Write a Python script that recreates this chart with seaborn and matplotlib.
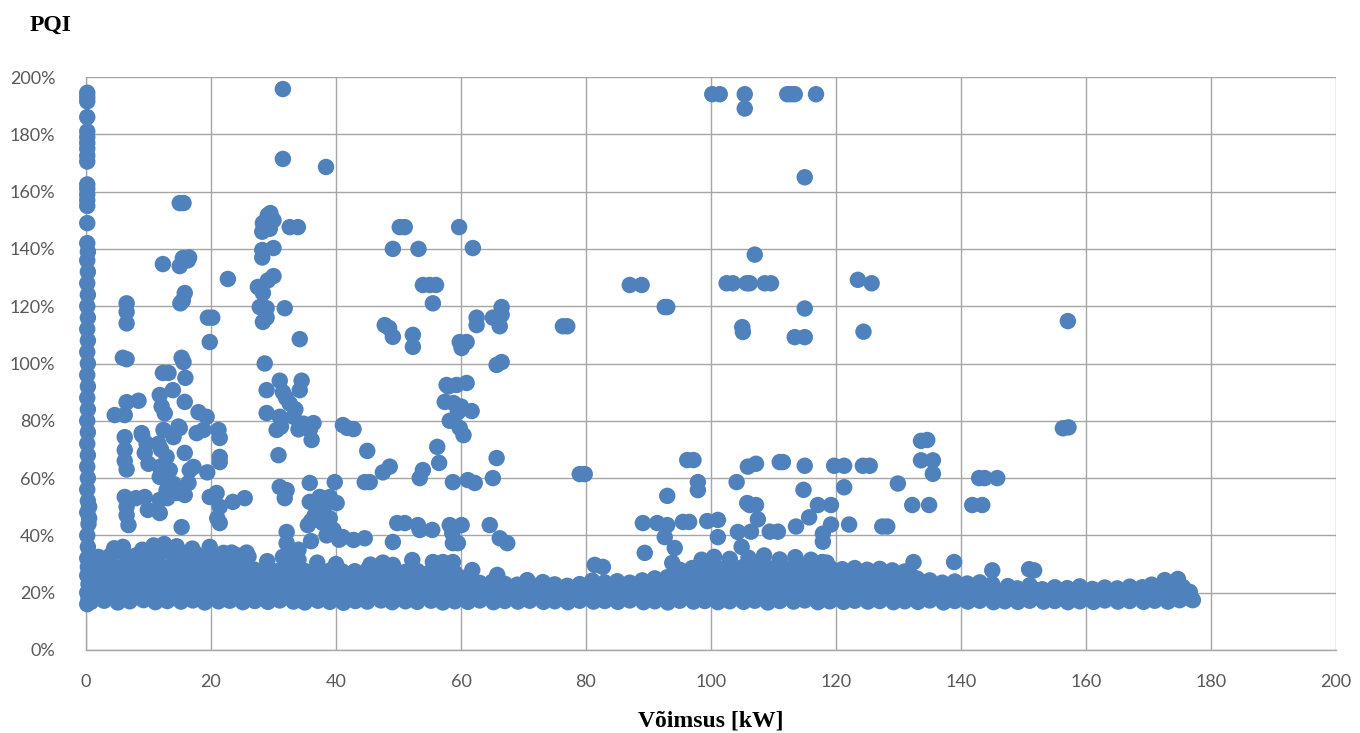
import matplotlib
matplotlib.use("Agg")
import matplotlib.pyplot as plt
import seaborn as sns
import pandas as pd

# ---------------- data (x = power kW, y = PQI %) ----------------
x_ticks = [0, 20, 40, 60, 80, 100, 120, 140, 160, 180, 200]
y_ticks = [0, 20, 40, 60, 80, 100, 120, 140, 160, 180, 200]
title_text = "PQI"
xlabel_text = "Võimsus [kW]"

# points at zero power (vertical column)
zero_column = [(0.2, 16), (0.4, 18), (0.2, 20), (0.4, 23), (0.2, 26), (0.3, 29), (0.2, 32), (0.3, 36),
               (0.2, 40), (0.4, 44), (0.2, 48), (0.3, 52), (0.2, 56), (0.3, 60), (0.2, 64), (0.3, 68),
               (0.2, 72), (0.3, 76), (0.2, 80), (0.3, 84), (0.2, 88), (0.3, 92), (0.2, 96), (0.3, 100),
               (0.2, 104), (0.3, 108), (0.2, 112), (0.3, 116), (0.2, 120), (0.3, 124), (0.2, 128),
               (0.3, 132), (0.2, 136), (0.3, 139), (0.2, 142), (0.2, 149), (0.2, 155), (0.2, 157),
               (0.2, 159), (0.2, 161), (0.2, 162.5), (0.2, 170.5), (0.2, 172.5), (0.2, 175), (0.2, 177),
               (0.2, 179), (0.2, 181), (0.2, 186), (0.2, 191.5), (0.2, 193), (0.2, 194.5),
               (0.6, 17), (0.7, 22), (0.6, 27), (0.7, 31), (0.5, 46), (0.5, 50)]

band_low = [(0.8, 16.8), (2.9, 17.2), (5.1, 16.6), (7.0, 17.0), (9.2, 17.4), (11.1, 16.7), (13.0, 17.1),
            (15.2, 16.9), (17.1, 17.3), (19.0, 16.6), (21.2, 17.0), (23.0, 17.2), (25.1, 16.7), (27.0, 17.1),
            (29.1, 16.8), (31.0, 17.3), (33.2, 16.9), (35.0, 16.6), (37.1, 17.2), (39.0, 16.8), (41.2, 16.5),
            (43.1, 17.1), (45.0, 16.9), (47.2, 17.3), (49.0, 16.7), (51.1, 17.0), (53.0, 16.8), (55.2, 17.2),
            (57.1, 16.6), (59.0, 17.0), (61.1, 16.8), (63.0, 17.3), (65.2, 16.7), (67.0, 17.1), (69.1, 16.9),
            (71.0, 17.2), (73.2, 16.8), (75.0, 17.0), (77.1, 16.7), (79.0, 17.2), (81.2, 16.9), (83.0, 17.1),
            (85.1, 16.8), (87.0, 17.3), (89.2, 16.7), (91.0, 17.0), (93.1, 16.6), (95.0, 17.2), (97.2, 16.9),
            (99.0, 17.1), (101.1, 16.7), (103.0, 17.0), (105.2, 16.8), (107.0, 17.2), (109.1, 16.6),
            (111.0, 17.1), (113.2, 16.9), (115.0, 17.3), (117.1, 16.7), (119.0, 17.0), (121.2, 16.8),
            (123.0, 17.2), (125.1, 16.9), (127.0, 17.1), (129.2, 16.7), (131.0, 17.0), (133.1, 16.8),
            (135.0, 17.3), (137.2, 16.6), (139.0, 17.1), (141.1, 16.9), (143.0, 17.2), (145.2, 16.7),
            (147.0, 17.0), (149.1, 16.8), (151.0, 17.2), (153.2, 16.9), (155.0, 17.1), (157.1, 16.7),
            (159.0, 17.0), (161.2, 16.8), (163.0, 17.3), (165.1, 16.9), (167.0, 17.1), (169.2, 16.8),
            (171.0, 17.2), (173.1, 16.9), (175.0, 17.4), (176.9, 17.6)]

band_low_fill = [(1.9, 19.2), (4.0, 18.8), (6.1, 19.4), (8.0, 19.0), (10.2, 18.7), (12.1, 19.3), (14.0, 19.1),
                 (16.1, 18.8), (18.0, 19.2), (20.2, 19.0), (22.1, 18.6), (24.0, 19.3), (26.1, 19.0),
                 (28.0, 18.8), (30.2, 19.2), (32.1, 18.9), (34.0, 19.4), (36.2, 19.0), (38.1, 18.7),
                 (40.0, 19.2), (42.2, 18.9), (44.1, 19.1), (46.0, 18.8), (48.2, 19.3), (50.1, 19.0),
                 (52.0, 18.7), (54.2, 19.2), (56.1, 18.9), (58.0, 19.1), (60.2, 18.8), (62.1, 19.2),
                 (64.0, 18.9), (66.2, 19.1), (68.1, 18.7), (70.0, 19.0), (72.2, 18.8), (74.1, 19.1),
                 (76.0, 18.7), (78.2, 19.0), (80.1, 18.8), (82.0, 19.2), (84.2, 18.9), (86.1, 19.1),
                 (88.0, 18.8), (90.2, 19.2), (92.1, 18.9), (94.0, 19.3), (96.2, 19.0), (98.1, 18.7),
                 (100.0, 19.2), (102.2, 18.9), (104.1, 19.3), (106.0, 19.0), (108.2, 18.8), (110.1, 19.2),
                 (112.0, 18.9), (114.2, 19.1), (116.1, 18.8), (118.0, 19.2), (120.2, 19.0), (122.1, 18.7),
                 (124.0, 19.1), (126.2, 18.9), (128.1, 19.2), (130.0, 18.8), (132.2, 19.0), (134.1, 18.7),
                 (136.0, 19.1), (138.2, 18.9), (140.1, 19.2), (142.0, 18.8), (144.2, 19.0), (146.1, 18.7),
                 (148.0, 19.0), (150.2, 18.8), (152.1, 19.1), (154.0, 18.7), (156.2, 19.0), (158.1, 18.8),
                 (160.0, 18.6), (162.2, 19.0), (164.1, 18.7), (166.0, 18.9), (168.2, 18.6), (170.1, 19.0),
                 (172.0, 19.2), (174.2, 18.9), (176.0, 19.1)]

band_mid = [(2.0, 21.2), (4.0, 20.8), (6.0, 21.5), (8.0, 21.0), (10.0, 20.6), (12.0, 21.3), (14.0, 21.0),
            (16.0, 20.7), (18.0, 21.4), (20.0, 21.1), (22.0, 20.8), (24.0, 21.2), (26.0, 20.9), (28.0, 21.4),
            (30.0, 21.0), (32.0, 20.6), (34.0, 21.3), (36.0, 21.0), (38.0, 20.8), (40.0, 21.2), (42.0, 21.0),
            (44.0, 20.7), (46.0, 21.3), (48.0, 21.0), (50.0, 20.8), (52.0, 21.2), (54.0, 20.9), (56.0, 21.3),
            (58.0, 21.0), (60.0, 20.7), (62.0, 21.2), (64.0, 20.9), (66.0, 21.1), (68.0, 20.6), (70.0, 21.0),
            (72.0, 20.5), (74.0, 20.8), (76.0, 20.4), (78.0, 20.9), (80.0, 20.6), (82.0, 21.1), (84.0, 20.8),
            (86.0, 21.2), (88.0, 20.9), (90.0, 21.3), (92.0, 21.0), (94.0, 20.7), (96.0, 21.2), (98.0, 21.0),
            (100.0, 21.4), (102.0, 20.9), (104.0, 21.2), (106.0, 21.0), (108.0, 20.7), (110.0, 21.3),
            (112.0, 21.0), (114.0, 20.8), (116.0, 21.2), (118.0, 20.9), (120.0, 21.3), (122.0, 21.0),
            (124.0, 20.7), (126.0, 21.1), (128.0, 20.8), (130.0, 21.2), (132.0, 20.9), (134.0, 20.6),
            (136.0, 21.0), (138.0, 20.7), (140.0, 21.1), (142.0, 20.5), (144.0, 20.9), (146.0, 20.4),
            (148.0, 20.8), (150.0, 20.5), (152.0, 20.9), (154.0, 20.3), (156.0, 20.7), (158.0, 20.4),
            (160.0, 20.2), (162.0, 20.6), (164.0, 20.3), (166.0, 20.0), (168.0, 20.4), (170.0, 20.7),
            (172.0, 21.0), (174.0, 21.3), (176.0, 20.5)]

band_mid_fill = [(1.0, 23.0), (3.1, 23.4), (5.0, 22.8), (7.1, 23.2), (9.0, 23.5), (11.1, 22.9), (13.0, 23.3),
                 (15.1, 23.0), (17.0, 23.4), (19.1, 22.8), (21.0, 23.2), (23.1, 23.5), (25.0, 22.9),
                 (27.1, 23.3), (29.0, 23.0), (31.1, 23.4), (33.0, 22.8), (35.1, 23.2), (37.0, 23.5),
                 (39.1, 22.9), (41.0, 23.3), (43.1, 23.0), (45.0, 23.4), (47.1, 22.8), (49.0, 23.2),
                 (51.1, 23.0), (53.0, 23.3), (55.1, 22.9), (57.0, 23.2), (59.1, 22.8), (61.0, 23.0),
                 (63.1, 22.0), (65.0, 22.3), (67.1, 21.8), (69.0, 22.1), (71.1, 21.6), (73.0, 21.9),
                 (75.1, 21.5), (77.0, 21.8), (79.1, 22.2), (81.0, 22.6), (83.1, 22.2), (85.0, 22.5),
                 (87.1, 22.1), (89.0, 22.7), (91.1, 23.0), (93.0, 23.4), (95.1, 22.9), (97.0, 23.3),
                 (99.1, 23.0), (101.0, 23.5), (103.1, 23.1), (105.0, 23.4), (107.1, 22.9), (109.0, 23.3),
                 (111.1, 23.0), (113.0, 23.4), (115.1, 22.9), (117.0, 23.2), (119.1, 23.0), (121.0, 23.4),
                 (123.1, 22.8), (125.0, 23.2), (127.1, 23.0), (129.0, 22.7), (131.1, 23.1), (133.0, 22.8),
                 (135.1, 22.4), (137.0, 22.0), (139.1, 22.3), (141.0, 21.9), (143.1, 22.2), (145.0, 21.7),
                 (149.0, 21.5), (153.0, 21.2), (157.0, 21.6), (161.0, 21.3), (165.0, 21.5), (169.0, 21.9),
                 (172.5, 22.4), (175.5, 22.0)]

band_upper = [(1.0, 25.0), (3.0, 25.4), (5.0, 24.8), (7.0, 25.6), (9.0, 25.1), (11.0, 24.7), (13.0, 25.3),
              (15.0, 25.0), (17.0, 25.5), (19.0, 24.9), (21.0, 25.2), (23.0, 25.6), (25.0, 24.8), (27.0, 25.1),
              (29.0, 25.4), (31.0, 24.7), (33.0, 25.2), (35.0, 25.5), (37.0, 24.9), (39.0, 25.3), (41.0, 25.0),
              (43.0, 24.6), (45.0, 25.2), (47.0, 24.9), (49.0, 25.4), (51.0, 24.8), (53.0, 25.1), (55.0, 24.7),
              (57.0, 25.3), (59.0, 24.9), (61.0, 24.4), (63.0, 23.4), (65.0, 23.8), (67.0, 23.1), (69.0, 22.8),
              (71.0, 23.2), (73.0, 22.6), (75.0, 22.9), (77.0, 22.4), (79.0, 23.0), (81.0, 24.2), (83.0, 23.6),
              (85.0, 24.0), (87.0, 23.5), (89.0, 24.3), (91.0, 25.0), (93.0, 25.4), (95.0, 24.8), (97.0, 25.6),
              (99.0, 25.2), (101.0, 25.8), (103.0, 25.1), (105.0, 25.5), (107.0, 24.9), (109.0, 25.3),
              (111.0, 25.7), (113.0, 25.0), (115.0, 25.4), (117.0, 24.8), (119.0, 25.2), (121.0, 25.6),
              (123.0, 24.9), (125.0, 25.3), (127.0, 24.7), (129.0, 25.1), (131.0, 24.6), (133.0, 24.9),
              (135.0, 24.3), (137.0, 23.5), (139.0, 23.9), (141.0, 23.2), (143.0, 23.6), (145.0, 23.0),
              (147.5, 22.3), (151.0, 22.6), (155.0, 21.9), (159.0, 22.2), (163.0, 21.8), (167.0, 22.1),
              (170.5, 22.8), (173.5, 23.4)]

band_upper_fill = [(2.0, 27.2), (4.0, 27.6), (6.0, 27.0), (8.0, 27.4), (10.0, 27.8), (12.0, 27.1),
                   (14.0, 27.5), (16.0, 27.2), (18.0, 27.6), (20.0, 27.0), (22.0, 27.3), (24.0, 27.7),
                   (26.0, 27.0), (28.0, 26.6), (30.0, 27.0), (32.0, 26.4), (34.0, 26.8), (36.0, 26.3),
                   (38.0, 26.7), (40.0, 26.2), (42.0, 26.0), (44.0, 26.4), (46.0, 25.9), (48.0, 26.3),
                   (50.0, 25.8), (52.0, 26.2), (54.0, 25.7), (56.0, 26.1), (58.0, 25.6), (60.0, 25.3),
                   (94.0, 26.4), (96.0, 26.9), (98.0, 27.2), (100.0, 27.6), (102.0, 27.0), (104.0, 27.4),
                   (106.0, 27.1), (108.0, 27.5), (110.0, 26.9), (112.0, 27.3), (114.0, 27.0), (116.0, 27.4),
                   (118.0, 26.8), (120.0, 27.1), (122.0, 26.7), (124.0, 27.0), (126.0, 26.5), (128.0, 26.8),
                   (130.0, 26.3), (132.0, 26.0)]

band_top = [(1.0, 29.0), (3.0, 29.5), (5.0, 28.8), (7.0, 29.4), (9.0, 29.1), (11.0, 29.7), (13.0, 28.9),
            (15.0, 29.3), (17.0, 29.6), (19.0, 29.0), (21.0, 29.4), (23.0, 28.8), (25.0, 29.2), (27.0, 28.0),
            (29.0, 28.5), (31.0, 27.8), (33.0, 28.3), (35.0, 27.6), (37.0, 28.1), (39.0, 27.7), (41.0, 27.4),
            (43.0, 27.5), (45.0, 27.9), (47.0, 27.3), (49.0, 27.8), (51.0, 27.2), (53.0, 27.6), (55.0, 27.1),
            (57.0, 27.5), (59.0, 27.0), (95.0, 28.0), (97.0, 28.6), (99.0, 29.2), (101.0, 28.7), (103.0, 29.3),
            (105.0, 28.9), (107.0, 29.5), (109.0, 28.8), (111.0, 29.2), (113.0, 28.6), (115.0, 29.0),
            (117.0, 28.4), (119.0, 28.8), (121.0, 28.2), (123.0, 28.6), (125.0, 28.0), (127.0, 28.3),
            (129.0, 27.8), (131.0, 27.4),
            (2.0, 32.5), (4.0, 33.2), (6.0, 33.8), (8.0, 33.0), (10.0, 33.6), (12.0, 34.0), (14.0, 33.3),
            (16.0, 33.8), (18.0, 33.1), (20.0, 33.5), (22.0, 33.9), (24.0, 33.2), (26.0, 32.6), (4.5, 35.5),
            (9.0, 35.0), (12.5, 37.0), (14.5, 36.2), (17.0, 35.4), (10.8, 36.5),
            (3.0, 31.0), (7.0, 31.4), (11.0, 31.2), (15.0, 31.5), (19.0, 31.1), (23.0, 31.3),
            (98.5, 31.5), (100.5, 32.5), (103.0, 31.8), (106.0, 32.2), (108.5, 33.0), (111.0, 31.6),
            (113.5, 32.4), (116.0, 31.5), (118.5, 30.5), (29.0, 31.0), (31.5, 32.5), (34.0, 31.5),
            (37.0, 30.5), (40.0, 30.0), (45.5, 29.8), (47.5, 30.5)]

outliers_low_power = [(5.9, 102), (6.5, 101.5), (15.3, 102), (15.6, 100.5), (15.9, 95), (19.8, 107.5),
                      (34.2, 108.5), (28.6, 100), (12.3, 96.7), (13.2, 96.7), (8.4, 87), (6.5, 86.5), (4.6, 82),
                      (6.2, 82), (11.8, 89), (13.9, 90.7), (12.1, 85), (12.6, 82.6), (15.8, 86.6), (18.0, 83),
                      (19.3, 81.4), (17.7, 75.7), (18.8, 76.8), (21.2, 76.8), (21.4, 74), (6.2, 74.3),
                      (6.2, 69.8), (6.2, 66), (6.5, 63), (8.9, 75.7), (9.7, 72), (9.4, 68.8), (11.6, 72),
                      (12.4, 76.8), (14.0, 74.3), (15.0, 77.5), (12.9, 67.4), (11.8, 63.9), (13.4, 62.8),
                      (15.8, 68.8), (11.8, 60.4), (16.6, 62.8), (17.2, 63.9), (19.4, 62), (21.4, 67.4),
                      (21.4, 65.6), (6.2, 53.4), (6.5, 50), (6.5, 47), (6.8, 43.6), (9.4, 53.4), (9.9, 48.9),
                      (11.8, 52.4), (12.9, 55.8), (14.5, 54.8), (15.8, 54.1), (16.4, 58.3), (11.8, 47.8),
                      (15.3, 42.9), (19.8, 53.4), (20.9, 54.8), (21.4, 50), (21.4, 44.3), (23.5, 51.7),
                      (25.4, 53), (5.9, 36), (19.8, 36), (23.3, 34), (25.7, 34), (14.8, 78), (10.0, 65),
                      (12.0, 70), (14.0, 58), (13.0, 53), (8.0, 53), (21.0, 46), (9.0, 75),
                      (28.9, 82.7), (31.0, 81.4), (30.5, 76.8), (32.6, 86), (33.2, 81.4), (34.5, 94), (31.0, 94),
                      (28.9, 90.7), (34.2, 90.7), (34.8, 79), (35.8, 76.8), (36.1, 73.3), (36.4, 79.2),
                      (30.8, 68), (31.0, 56.9), (32.1, 55.8), (31.8, 53), (35.8, 58.3), (39.8, 58.6),
                      (35.8, 51.7), (37.4, 53.4), (39.0, 53.4), (40.1, 51.3), (37.4, 48.9), (36.6, 47),
                      (35.5, 43.6), (37.9, 44.3), (39.6, 41.9), (32.1, 41.2), (32.1, 37.3), (41.1, 39.4),
                      (41.1, 78.5), (41.8, 77.5), (32.0, 88), (33.5, 84), (31.5, 90), (34.0, 77), (31.2, 78),
                      (38.0, 49), (39.0, 46), (36.0, 45), (38.5, 40), (40.5, 38.5), (33.0, 33), (34.0, 35),
                      (36.0, 38),
                      (31.5, 195.8), (31.5, 171.4), (38.4, 168.6), (15.0, 156), (15.6, 156), (29.1, 151.8),
                      (28.3, 149), (30.0, 150), (28.2, 146), (29.4, 147), (32.6, 147.6), (33.9, 147.6),
                      (28.2, 139.6), (30.0, 140.3), (28.2, 137), (12.3, 134.7), (15.5, 136.8), (16.3, 136),
                      (15.0, 134), (22.7, 129.5), (30.0, 130.5), (29.1, 129), (27.5, 126.7), (28.3, 124.6),
                      (15.8, 124.6), (15.5, 122), (15.1, 121), (27.8, 119.7), (28.9, 119.3), (31.8, 119.3),
                      (28.9, 116), (28.3, 114.5), (6.5, 121), (6.5, 118), (6.5, 114), (19.5, 116), (20.2, 116),
                      (29.5, 152.5), (29.0, 150.5), (16.5, 137)]

outliers_mid_power = [(50.2, 147.6), (51.0, 147.6), (59.7, 147.6), (49.1, 140), (53.2, 140), (61.9, 140.3),
                      (53.9, 127.4), (55.0, 127.4), (56.0, 127.4), (55.5, 121), (87.0, 127.4), (88.9, 127.4),
                      (92.6, 119.7), (93.0, 119.7), (47.8, 113.4), (48.5, 112.4), (49.1, 109.3), (52.3, 110),
                      (52.3, 105.8), (59.8, 107.5), (60.9, 107.5), (60.1, 105.4), (62.5, 116), (62.5, 113.4),
                      (66.5, 119.7), (65.1, 116), (66.5, 117), (66.2, 113), (66.5, 100.5), (65.7, 99.5),
                      (77.0, 113), (76.3, 113), (57.7, 92.5), (59.3, 92.5), (60.9, 93.2), (57.4, 86.6),
                      (58.8, 86.2), (61.7, 83.4), (59.5, 83), (58.2, 80), (59.8, 77.5), (60.4, 75), (42.8, 77.1),
                      (45.0, 69.5), (47.5, 62), (48.6, 64), (53.9, 62.8), (53.4, 60), (56.2, 70.9), (56.5, 65.3),
                      (44.6, 58.6), (45.4, 58.6), (58.7, 58.6), (61.1, 59.3), (62.2, 58.3), (65.7, 67),
                      (65.1, 60), (79.0, 61.4), (79.8, 61.4), (96.2, 66.3), (97.2, 66.3), (97.9, 58.6),
                      (97.9, 55.8), (93.0, 53.8), (49.8, 44.3), (51.0, 44.3), (53.1, 43.6), (55.4, 41.9),
                      (53.4, 41.9), (58.2, 43.6), (60.1, 43.6), (58.6, 40.8), (58.7, 37.3), (59.5, 37.3),
                      (64.6, 43.6), (66.2, 39), (67.4, 37.3), (42.8, 38.4), (44.6, 39), (49.1, 37.7),
                      (49.1, 29.7), (52.2, 31.4), (55.5, 30.7), (57.1, 30.7), (58.7, 30.7), (89.1, 44.3),
                      (91.4, 44.3), (93.0, 43.6), (92.6, 39.4), (94.2, 35.6), (89.4, 33.9), (95.5, 44.7),
                      (96.5, 44.7), (99.4, 45), (101.1, 45.4), (101.1, 39.4), (104.3, 41.2), (104.9, 36),
                      (93.8, 30.4), (81.4, 29.7), (82.7, 29), (60.0, 85), (58.0, 92), (61.8, 27.9),
                      (65.8, 26.2), (70.6, 24.4), (73.1, 23.7)]

outliers_high_power = [(100.2, 194), (101.4, 194), (105.4, 194), (105.4, 189), (112.2, 194), (112.8, 194),
                       (113.4, 194), (116.8, 194), (115.0, 165), (107.0, 138), (102.5, 128), (103.5, 128),
                       (105.7, 128), (106.2, 128), (108.6, 128), (109.6, 128), (105.0, 112.7), (105.1, 111),
                       (123.5, 129.2), (125.7, 128), (115.0, 119.2), (113.4, 109.2), (115.0, 109.2),
                       (124.4, 111.1), (157.1, 114.8), (156.3, 77.4), (157.2, 77.7), (133.6, 73), (134.6, 73.3),
                       (107.2, 65), (111.0, 65.6), (111.5, 65.6), (115.0, 64.3), (119.7, 64.3), (121.3, 64.3),
                       (124.3, 64.3), (125.4, 64.3), (133.6, 66.2), (135.5, 66.2), (135.5, 61.5), (129.9, 58.1),
                       (114.8, 55.9), (121.3, 56.8), (142.9, 60), (143.8, 60), (145.8, 60), (132.2, 50.6),
                       (134.9, 50.6), (141.8, 50.6), (143.4, 50.6), (107.2, 50.6), (106.2, 50.6), (117.1, 50.6),
                       (119.2, 50.6), (107.5, 45.6), (115.7, 46.3), (106.4, 41.3), (109.4, 41.3), (110.7, 41.3),
                       (113.6, 43.1), (117.9, 40.6), (119.2, 43.8), (122.1, 43.8), (127.4, 43.1), (128.2, 43.1),
                       (117.9, 37.8), (104.1, 58.6), (105.9, 64), (105.8, 51.3), (132.4, 30.7), (138.9, 30.7),
                       (145.0, 27.8), (150.9, 28.2), (151.7, 27.8), (172.6, 24.4), (174.7, 24.8), (176.6, 20.3),
                       (177.1, 17.4), (117.8, 30.7)]

# ---------------- table ----------------
groups = [zero_column, band_low, band_low_fill, band_mid, band_mid_fill, band_upper, band_upper_fill,
          band_top, outliers_low_power, outliers_mid_power, outliers_high_power]
df = pd.DataFrame([p for g in groups for p in g], columns=["kW", "PQI"])

# ---------------- figure ----------------
sns.set_theme(style="white")
plt.rcParams["font.family"] = ["Lato", "DejaVu Sans"]

fig = plt.figure(figsize=(13.6, 7.33), dpi=100)
ax = fig.add_axes([86 / 1360, 1 - 650 / 733, 1250 / 1360, 573 / 733])

grid_c = "#A6A6A6"
ax.set_xlim(0, 200)
ax.set_ylim(0, 200)
ax.set_xticks(x_ticks)
ax.set_yticks(y_ticks)
ax.set_yticklabels([f"{v}%" for v in y_ticks])
ax.grid(True, color=grid_c, linewidth=1.0)
ax.set_axisbelow(True)
for s in ["top", "right"]:
    ax.spines[s].set_visible(False)
for s in ["left", "bottom"]:
    ax.spines[s].set_color(grid_c)
    ax.spines[s].set_linewidth(1.0)

sns.scatterplot(data=df, x="kW", y="PQI", ax=ax, s=140, color="#4F81BD",
                edgecolor="none", linewidth=0, alpha=1, clip_on=False, zorder=3, legend=False)
for coll in ax.collections:
    coll.set_edgecolor("none")
    coll.set_linewidth(0)

ax.tick_params(axis="both", length=0, labelsize=13, labelcolor="#595959")
ax.tick_params(axis="y", pad=22)
ax.tick_params(axis="x", pad=17)
ax.set_xlabel("")
ax.set_ylabel("")

fig.text(30 / 1360, 1 - 31 / 733, title_text, ha="left", va="baseline",
         fontsize=17, fontweight="bold", family="Liberation Serif", color="black")
fig.text(711 / 1360, 1 - 726 / 733, xlabel_text, ha="center", va="baseline",
         fontsize=17, fontweight="bold", family="Liberation Serif", color="black")

fig.savefig("out.png", dpi=100)
